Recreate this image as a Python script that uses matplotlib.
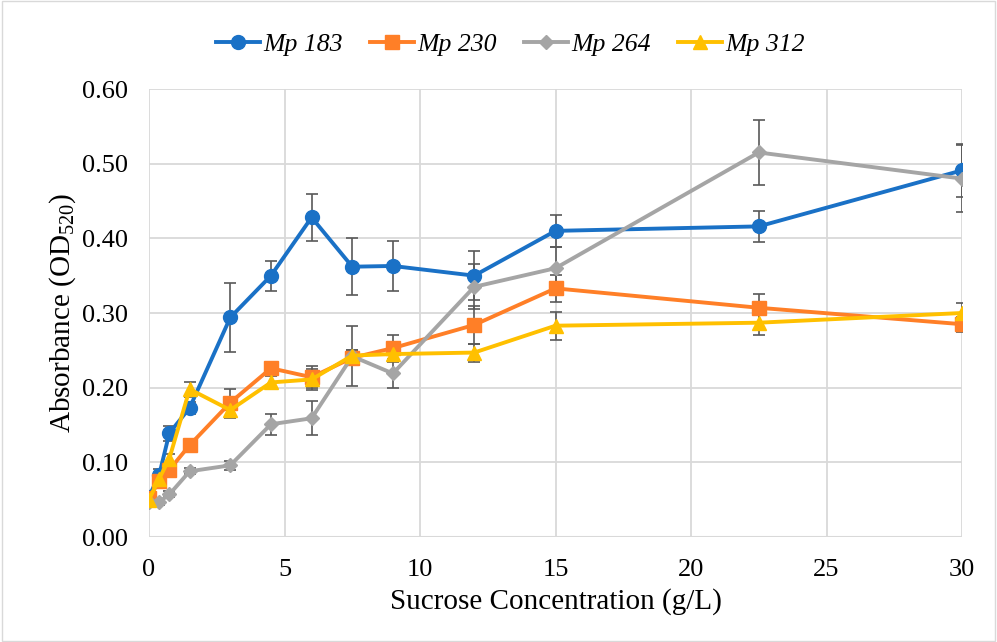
import numpy as np
import matplotlib
matplotlib.use('Agg')
import matplotlib.pyplot as plt

# sucrose concentrations (g/L)
conc = [0, 0.375, 0.75, 1.5, 3, 4.5, 6, 7.5, 9, 12, 15, 22.5, 30]

# absorbance values
mp183 = [0.054, 0.083, 0.139, 0.173, 0.294, 0.350, 0.428, 0.362, 0.363, 0.350, 0.410, 0.416, 0.491]
mp230 = [0.052, 0.075, 0.090, 0.123, 0.180, 0.226, 0.214, 0.240, 0.253, 0.284, 0.333, 0.307, 0.285]
mp264 = [0.047, 0.047, 0.057, 0.088, 0.096, 0.151, 0.159, 0.242, 0.219, 0.335, 0.360, 0.515, 0.480]
mp312 = [0.050, 0.078, 0.105, 0.198, 0.170, 0.207, 0.211, 0.243, 0.245, 0.247, 0.283, 0.287, 0.300]

# error bars
err183 = [0.005, 0.008, 0.010, 0.008, 0.046, 0.020, 0.031, 0.038, 0.033, 0.033, 0.021, 0.021, 0.035]
err230 = [0.004, 0.006, 0.008, 0.006, 0.018, 0.008, 0.015, 0.010, 0.018, 0.025, 0.018, 0.019, 0.010]
err264 = [0.003, 0.004, 0.004, 0.004, 0.006, 0.014, 0.023, 0.040, 0.020, 0.030, 0.028, 0.043, 0.045]
err312 = [0.004, 0.006, 0.006, 0.010, 0.010, 0.008, 0.014, 0.008, 0.008, 0.012, 0.019, 0.017, 0.014]

labels = ['Mp 183', 'Mp 230', 'Mp 264', 'Mp 312']
colors = ['#1A71C6', '#FF7F27', '#A5A5A5', '#FFC000']
markers = ['o', 's', 'D', '^']
msizes = [10, 9.5, 7, 10]

plt.rcParams['font.family'] = ['Liberation Serif', 'DejaVu Serif']
plt.rcParams['mathtext.fontset'] = 'custom'
plt.rcParams['mathtext.rm'] = 'Liberation Serif'

fig = plt.figure(figsize=(9.97, 6.42), dpi=100)
ax = fig.add_axes([149/997, 1 - 537/642, (962-149)/997, (537-89)/642])

series = [mp183, mp230, mp264, mp312]
errs = [err183, err230, err264, err312]
for vals, e, lab, c, m, ms in zip(series, errs, labels, colors, markers, msizes):
    ax.errorbar(conc, vals, yerr=e, fmt='none', ecolor='#595959', elinewidth=1.2,
                capsize=4, capthick=1.2, zorder=2)
    ax.plot(conc, vals, color=c, marker=m, markersize=ms, linewidth=2.8,
            label=lab, zorder=3)

ax.set_xlim(0, 30)
ax.set_ylim(0, 0.6)
ax.set_xticks(np.arange(0, 31, 5))
ax.set_yticks(np.arange(0, 0.61, 0.1))
ax.set_yticklabels(['%.2f' % v for v in np.arange(0, 0.61, 0.1)])
ax.tick_params(labelsize=19, length=0)
ax.tick_params(axis='y', pad=15)
ax.tick_params(axis='x', pad=16)
ax.grid(True, color='#D9D9D9', linewidth=1.3)
ax.set_axisbelow(True)
for s in ax.spines.values():
    s.set_visible(False)
ax.axhline(0, color='#D9D9D9', linewidth=1.5, zorder=1)

ax.set_xlabel('Sucrose Concentration (g/L)', fontsize=21, labelpad=5)
ax.set_ylabel('Absorbance (OD$_{\\mathrm{520}}$)', fontsize=21, labelpad=3)

leg = fig.legend(loc='center', bbox_to_anchor=(0.512, 1 - 45/642), ncol=4, frameon=False,
                 prop={'style': 'italic', 'size': 18.5}, handlelength=1.7,
                 handletextpad=0.15, columnspacing=1.05)

# outer chart border
fig.patches.append(plt.Rectangle((0.002, 0.002), 0.996, 0.996, transform=fig.transFigure,
                                 fill=False, edgecolor='#D9D9D9', linewidth=1))

fig.savefig('out.png', dpi=100)
